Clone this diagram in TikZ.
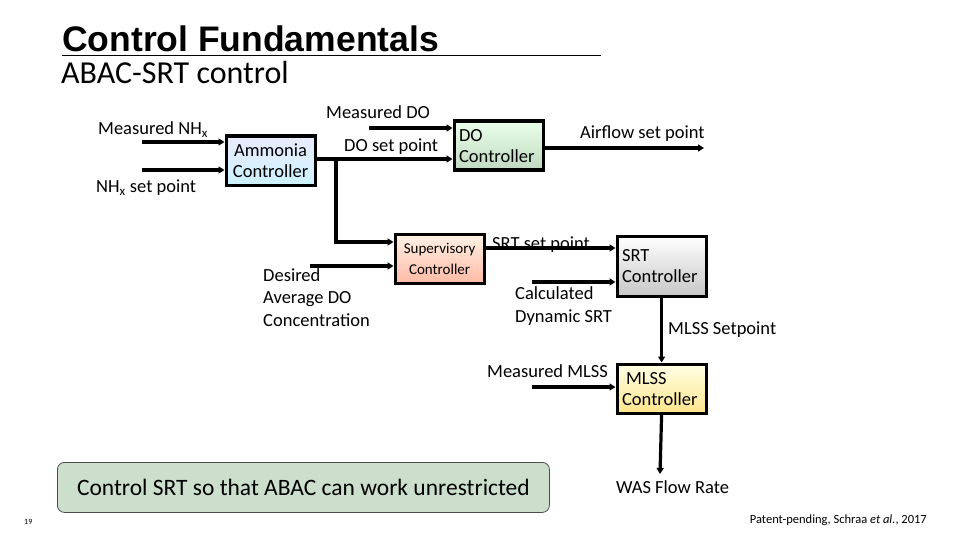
\documentclass[tikz,border=0pt]{standalone}
\usepackage{fontspec}
\setmainfont{Carlito}
\newfontfamily\arialf{Liberation Sans}
\usetikzlibrary{arrows.meta}
\begin{document}
\begin{tikzpicture}[x=1pt,y=-1pt,
  blk/.style={draw=black,line width=3.2pt,minimum width=89pt,inner xsep=5pt,inner ysep=0pt,anchor=north west,font=\fontsize{18.5}{21}\selectfont,align=left},
  arr/.style={line width=3.2pt,-{Triangle[length=6pt,width=7pt]}},
  lbl/.style={font=\fontsize{18.5}{21}\selectfont,inner sep=0pt}]
\useasboundingbox (0,0) rectangle (960,540);
% title
\node[anchor=base west,inner sep=0pt,font=\arialf\bfseries\fontsize{35.5}{38}\selectfont] (title) at (62,52) {Control Fundamentals};
\draw[line width=0.8pt] (62,55) -- (601,55);
\node[anchor=base west,inner sep=0pt,font=\fontsize{32}{34}\selectfont] (sub) at (61,84) {ABAC-SRT control};
% boxes
\node[blk,minimum height=49pt,top color=blue!8,bottom color=blue!25!cyan!20,text width=79pt,align=center] (amm) at (224.5,134.5) {Ammonia\\Controller};
\node[blk,minimum height=49pt,top color=green!8,bottom color=green!40!black!25,text width=79pt] (do) at (452.5,119.5) {DO\\Controller};
\node[blk,minimum height=49pt,top color=orange!10,bottom color=orange!45!red!35,text width=79pt,align=center,font=\fontsize{15}{21}\selectfont] (sup) at (393.5,232.5) {Supervisory\\Controller};
\node[blk,minimum height=60pt,top color=white,bottom color=black!22,text width=79pt] (srt) at (615.5,234.5) {SRT\\Controller};
\node[blk,minimum height=49pt,top color=yellow!10,bottom color=orange!45!yellow!45,text width=79pt] (mlss) at (615.5,362.5) {\hspace*{4pt}MLSS\\Controller};
% coordinates
\coordinate (nh1) at (142,142);
\coordinate (nh2) at (142,170);
\coordinate (mdo) at (369,128);
\coordinate (br) at (336,159);
\coordinate (brd) at (336,242);
\coordinate (des) at (310,266);
\coordinate (air) at (704,148);
\coordinate (calc) at (532,282);
\coordinate (mm) at (532,387);
\coordinate (was) at (660,474);
% connectors
\draw[arr] (nh1) -- (nh1 -| amm.west);
\draw[arr] (nh2) -- (nh2 -| amm.west);
\draw[arr] (amm.east |- br) -- (br -| do.west);
\draw[arr] (mdo) -- (mdo -| do.west);
\draw[arr] (br) -- (brd) -- (brd -| sup.west);
\draw[arr] (des) -- (des -| sup.west);
\draw[arr] (do.east |- air) -- (air);
\draw[arr] (sup.east |- 0,248) -- (srt.west |- 0,248);
\draw[arr] (calc) -- (calc -| srt.west);
\draw[arr] (srt.south) -- (mlss.north);
\draw[arr] (mm) -- (mm -| mlss.west);
\draw[arr] (mlss.south) -- (was);
% labels
\node[lbl,anchor=base west] (l1) at (98,135) {Measured NH\textsubscript{x}};
\node[lbl,anchor=base west] (l2) at (96,193) {NH\textsubscript{x} set point};
\node[lbl,anchor=base west] (l3) at (326,119) {Measured DO};
\node[lbl,anchor=base west] (l4) at (344,152) {DO set point};
\node[lbl,anchor=base west] (l5) at (580,139) {Airflow set point};
\node[lbl,anchor=north west,align=left,font=\fontsize{18.5}{22.5}\selectfont] (l6) at (263,268) {Desired\\Average DO\\Concentration};
\node[lbl,anchor=base west] (l7) at (492,249) {SRT set point};
\node[lbl,anchor=north west,align=left,font=\fontsize{18.5}{23}\selectfont] (l8) at (515,286) {Calculated\\Dynamic SRT};
\node[lbl,anchor=base west] (l9) at (668,334) {MLSS Setpoint};
\node[lbl,anchor=base west] (l10) at (487,377) {Measured MLSS};
\node[lbl,anchor=base west] (l11) at (616,493) {WAS Flow Rate};
% note
\node[draw=black!70,line width=0.8pt,rounded corners=7pt,fill=green!35!black!20,minimum width=492pt,minimum height=50pt,anchor=north west,inner sep=0pt,font=\fontsize{23.5}{26}\selectfont] (note) at (57,462) {Control SRT so that ABAC can work unrestricted};
\node[lbl,anchor=base west,font=\fontsize{8}{9}\selectfont] (pg) at (24,524) {19};
\node[lbl,anchor=base east,font=\fontsize{12.5}{14}\selectfont] (pat) at (927,523) {Patent-pending, Schraa \textit{et al.}, 2017};
\end{tikzpicture}
\end{document}
